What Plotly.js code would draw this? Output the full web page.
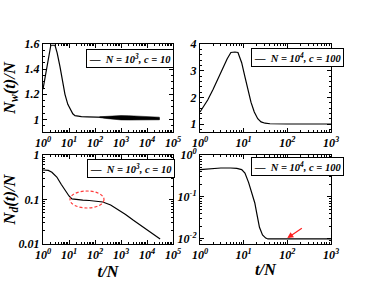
<!DOCTYPE html>
<html>
<head>
<meta charset="utf-8">
<script src="https://cdn.plot.ly/plotly-3.0.1.min.js"></script>
<style>html,body{margin:0;padding:0;background:#fff;}#chart{width:374px;height:289px;}</style>
</head>
<body>
<div id="chart"></div>
<script>
// ---- data ----
// top-left: N_w(t)/N, N = 10^3, c = 10
var tlT = [1, 1.2, 1.4, 1.7, 2.0, 2.9, 3.5, 4.5, 5.5, 7, 9, 11, 14, 17, 22, 30, 50, 100, 200, 500, 1000, 3000, 10000, 30000];
var tlV = [1.24, 1.33, 1.42, 1.53, 1.59, 1.59, 1.53, 1.42, 1.31, 1.2, 1.12, 1.08, 1.045, 1.03, 1.024, 1.022, 1.021, 1.02, 1.018, 1.015, 1.012, 1.01, 1.007, 1.005];
// fluctuation band of the same run (upper / lower envelope)
var tlBandT = [150, 250, 400, 700, 1000, 2000, 5000, 10000, 20000, 30000];
var tlBandHi = [1.021, 1.025, 1.028, 1.03, 1.031, 1.03, 1.026, 1.022, 1.02, 1.018];
var tlBandLo = [1.015, 1.008, 1.002, 0.998, 0.996, 0.995, 0.995, 0.995, 0.996, 0.997];
// top-right: N_w(t)/N, N = 10^4, c = 100
var trT = [1, 1.5, 2, 2.7, 3.4, 4.2, 5.1, 6.3, 7.4, 9, 10.7, 12.5, 14.7, 17.5, 21, 25, 31, 40, 60, 100, 1000];
var trV = [1.45, 1.9, 2.3, 2.75, 3.14, 3.45, 3.68, 3.7, 3.68, 3.3, 2.77, 2.25, 1.82, 1.45, 1.2, 1.08, 1.03, 1.01, 1.0, 1.0, 1.0];
// bottom-left: N_d(t)/N, N = 10^3, c = 10
var blT = [1, 1.6, 2.2, 3.4, 5, 7, 10, 13, 20, 34, 60, 100, 200, 400, 700, 1500, 3000, 5400, 10000, 20000, 32000];
var blV = [0.46, 0.45, 0.41, 0.32, 0.22, 0.16, 0.12, 0.103, 0.099, 0.097, 0.095, 0.092, 0.088, 0.075, 0.061, 0.046, 0.034, 0.027, 0.021, 0.016, 0.013];
// bottom-right: N_d(t)/N, N = 10^4, c = 100
var brT = [1, 2, 3, 5, 7, 9, 10.7, 13, 15, 18, 20, 23, 27, 32, 36, 50, 100, 1000];
var brV = [0.45, 0.48, 0.49, 0.49, 0.48, 0.45, 0.37, 0.22, 0.14, 0.072, 0.04, 0.019, 0.0125, 0.0105, 0.01, 0.01, 0.01, 0.01];

var legendTL = 'N = 10<sup>3</sup>, c = 10';
var legendTR = 'N = 10<sup>4</sup>, c = 100';
var xTicks5 = [1, 10, 100, 1000, 10000, 100000];
var xTicks3 = [1, 10, 100, 1000];
var blYTicks = [0.01, 0.1, 1];
var blYText = ['0.01', '0.1', '1'];
var brYTicks = [0.01, 0.1, 1];
var brYText = ['10<sup>-2</sup>', '10<sup>-1</sup>', '10<sup>0</sup>'];

// ---- helpers ----
function powText(vals) { return vals.map(function (v) { return '10<sup>' + Math.round(Math.log10(v)) + '</sup>'; }); }
function minorLog(lo, hi) { var a = []; for (var d = lo; d < hi; d++) for (var k = 2; k < 10; k++) a.push(k * Math.pow(10, d)); return a; }

var F = 'Liberation Serif, Times New Roman, serif';
var tickFont = {family: F, size: 12, weight: 'bold', style: 'italic', color: '#000'};
var titleFont = {family: F, size: 16.5, weight: 'bold', style: 'italic', color: '#000'};
var legFont = {family: F, size: 10.5, weight: 'bold', style: 'italic', color: '#000'};

function axBase(extra) {
  var o = {showline: true, linecolor: '#000', linewidth: 1, mirror: 'ticks', ticks: 'inside', ticklen: 4,
           tickcolor: '#000', showgrid: false, zeroline: false, tickfont: tickFont, fixedrange: true, automargin: false};
  for (var k in extra) o[k] = extra[k];
  return o;
}

var line = {color: '#000', width: 1.2};
var traces = [
  {x: tlBandT.concat(tlBandT.slice().reverse()), y: tlBandHi.concat(tlBandLo.slice().reverse()), xaxis: 'x', yaxis: 'y',
   mode: 'lines', fill: 'toself', fillcolor: '#000', line: {color: '#000', width: 0.5}, showlegend: false, hoverinfo: 'skip'},
  {x: tlT, y: tlV, xaxis: 'x', yaxis: 'y', mode: 'lines', line: line, name: legendTL, showlegend: false},
  {x: trT, y: trV, xaxis: 'x2', yaxis: 'y2', mode: 'lines', line: line, name: legendTR, showlegend: false},
  {x: blT, y: blV, xaxis: 'x3', yaxis: 'y3', mode: 'lines', line: line, name: legendTL, showlegend: false},
  {x: brT, y: brV, xaxis: 'x4', yaxis: 'y4', mode: 'lines', line: line, name: legendTR, showlegend: false}
];

var dxL = [43 / 374, 173 / 374], dxR = [200 / 374, 331 / 374];
var dyT = [1 - 132 / 289, 1 - 44 / 289], dyB = [1 - 244 / 289, 1 - 155 / 289];

function legendBox(px, py, txt) {
  return {xref: 'paper', yref: 'paper', x: px / 374, y: 1 - py / 289, xanchor: 'left', yanchor: 'top', showarrow: false,
          text: '\u2014  <i>' + txt + '</i>', font: legFont, bordercolor: '#000', borderwidth: 1, borderpad: 2, bgcolor: '#fff', align: 'left'};
}

var layout = {
  width: 374, height: 289, margin: {l: 0, r: 0, t: 0, b: 0}, paper_bgcolor: '#fff', plot_bgcolor: '#fff', showlegend: false,
  font: {family: F, color: '#000'},
  xaxis: axBase({domain: dxL, anchor: 'y', type: 'log', range: [0, 5], tickmode: 'array', tickvals: xTicks5, ticktext: powText(xTicks5),
    minor: {tickmode: 'array', tickvals: minorLog(0, 5), ticks: 'inside', ticklen: 2, tickcolor: '#000'}}),
  yaxis: axBase({domain: dyT, anchor: 'x', range: [0.9, 1.6], tickmode: 'array', tickvals: [1, 1.2, 1.4, 1.6], ticktext: ['1', '1.2', '1.4', '1.6'],
    minor: {dtick: 0.05, tick0: 0, ticks: 'inside', ticklen: 2, tickcolor: '#000'},
    title: {text: 'N<sub>w</sub>(t)/N', font: titleFont, standoff: 6}}),
  xaxis2: axBase({domain: dxR, anchor: 'y2', type: 'log', range: [0, 3], tickmode: 'array', tickvals: xTicks3, ticktext: powText(xTicks3),
    minor: {tickmode: 'array', tickvals: minorLog(0, 3), ticks: 'inside', ticklen: 2, tickcolor: '#000'}}),
  yaxis2: axBase({domain: dyT, anchor: 'x2', range: [0.7, 4], tickmode: 'array', tickvals: [1, 2, 3, 4], ticktext: ['1', '2', '3', '4'],
    minor: {dtick: 0.2, tick0: 0, ticks: 'inside', ticklen: 2, tickcolor: '#000'}}),
  xaxis3: axBase({domain: dxL, anchor: 'y3', type: 'log', range: [0, 5], tickmode: 'array', tickvals: xTicks5, ticktext: powText(xTicks5),
    minor: {tickmode: 'array', tickvals: minorLog(0, 5), ticks: 'inside', ticklen: 2, tickcolor: '#000'},
    title: {text: 't/N', font: titleFont, standoff: 2}}),
  yaxis3: axBase({domain: dyB, anchor: 'x3', type: 'log', range: [-2, 0], tickmode: 'array', tickvals: blYTicks, ticktext: blYText,
    minor: {tickmode: 'array', tickvals: minorLog(-2, 0), ticks: 'inside', ticklen: 2, tickcolor: '#000'},
    title: {text: 'N<sub>d</sub>(t)/N', font: titleFont, standoff: 6}}),
  xaxis4: axBase({domain: dxR, anchor: 'y4', type: 'log', range: [0, 3], tickmode: 'array', tickvals: xTicks3, ticktext: powText(xTicks3),
    minor: {tickmode: 'array', tickvals: minorLog(0, 3), ticks: 'inside', ticklen: 2, tickcolor: '#000'},
    title: {text: 't/N', font: titleFont, standoff: 2}}),
  yaxis4: axBase({domain: dyB, anchor: 'x4', type: 'log', range: [-2.12, 0], tickmode: 'array', tickvals: brYTicks, ticktext: brYText,
    minor: {tickmode: 'array', tickvals: minorLog(-3, 0), ticks: 'inside', ticklen: 2, tickcolor: '#000'}}),
  shapes: [
    {type: 'circle', xref: 'paper', yref: 'paper', x0: 70 / 374, x1: 104 / 374, y0: 1 - 208 / 289, y1: 1 - 191 / 289,
     line: {color: '#ff3a3a', width: 1.2, dash: '3px,2px'}, fillcolor: 'rgba(0,0,0,0)', layer: 'above'}
  ],
  annotations: [
    legendBox(86, 49, legendTL),
    legendBox(251, 48, legendTR),
    legendBox(87, 159, legendTL),
    legendBox(251, 157, legendTR),
    {xref: 'x4', yref: 'y4', x: 2.0, y: -1.98, ax: 16, ay: -11, showarrow: true, arrowcolor: '#ff2020', arrowwidth: 1.2,
     arrowhead: 2, arrowsize: 1, text: ''}
  ]
};

Plotly.newPlot('chart', traces, layout, {staticPlot: true, displayModeBar: false});
</script>
</body>
</html>
